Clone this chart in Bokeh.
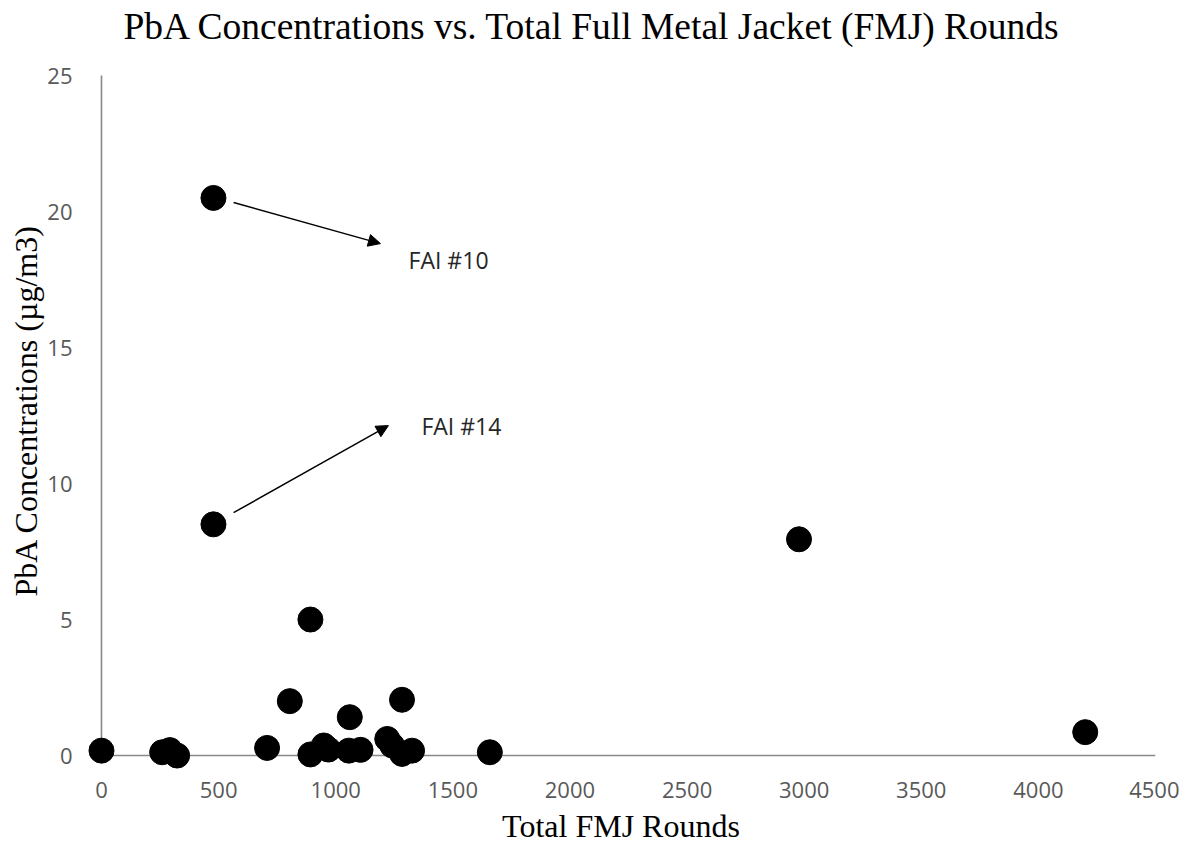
from bokeh.plotting import figure
from bokeh.models import Range1d, Label, Arrow, NormalHead, ColumnDataSource
from bokeh.embed import file_html
from bokeh.resources import INLINE

# ---- data ----
rounds = [0, 259, 292, 323, 478, 478, 707, 804, 892, 892, 949, 969,
          1056, 1060, 1106, 1220, 1241, 1283, 1283, 1326, 1658, 2978, 4200]
pba = [0.18, 0.12, 0.20, 0.00, 20.5, 8.5, 0.28, 2.0, 5.0, 0.04, 0.37, 0.22,
       0.18, 1.41, 0.21, 0.61, 0.37, 2.05, 0.06, 0.18, 0.12, 7.95, 0.86]
x_ticks = [0, 500, 1000, 1500, 2000, 2500, 3000, 3500, 4000, 4500]
y_ticks = [0, 5, 10, 15, 20, 25]

title_text = "PbA Concentrations vs. Total Full Metal Jacket (FMJ) Rounds"
x_label = "Total FMJ Rounds"
y_label = "PbA Concentrations (\u00b5g/m3)"

# annotation callouts
callout_labels = ["FAI #10", "FAI #14"]
callout_start_x = [564, 564]
callout_start_y = [20.33, 8.93]
callout_end_x = [1191, 1225]
callout_end_y = [18.82, 12.13]
callout_text_x = [1311, 1366]
callout_text_y = [18.2, 12.13]

p = figure(
    frame_width=1069, frame_height=720,
    x_range=Range1d(-64, 4500), y_range=Range1d(-0.55, 25.92),
    output_backend="svg", toolbar_location=None,
    min_border_left=86, min_border_right=24, min_border_top=50, min_border_bottom=72,
    title=title_text,
)
p.background_fill_color = "white"
p.border_fill_color = "white"
p.outline_line_color = None
p.grid.grid_line_color = None

p.title.text_font = "Liberation Serif"
p.title.text_font_size = "37.5px"
p.title.text_font_style = "normal"
p.title.text_color = "#000000"
p.title.align = "left"
p.title.offset = 37
p.title.vertical_align = "middle"
p.title.standoff = 6

for ax in (p.xaxis, p.yaxis):
    ax.axis_line_color = None
    ax.major_tick_line_color = None
    ax.minor_tick_line_color = None
    ax.major_tick_out = 0
    ax.major_tick_in = 0
    ax.major_label_text_font = "Open Sans"
    ax.major_label_text_font_size = "22px"
    ax.major_label_text_color = "#595959"
    ax.axis_label_text_font = "Liberation Serif"
    ax.axis_label_text_font_size = "32px"
    ax.axis_label_text_font_style = "normal"
    ax.axis_label_text_color = "#000000"

p.xaxis.ticker = x_ticks
p.yaxis.ticker = y_ticks
p.xaxis.axis_label = x_label
p.yaxis.axis_label = y_label
p.xaxis.major_label_standoff = 11
p.yaxis.major_label_standoff = 14
p.xaxis.axis_label_standoff = 7
p.yaxis.axis_label_standoff = 0

# visible axis lines at data zero
p.segment(x0=[x_ticks[0], x_ticks[0]], y0=[y_ticks[0], y_ticks[0]],
          x1=[x_ticks[-1], x_ticks[0]], y1=[y_ticks[0], y_ticks[-1]],
          line_color="#898989", line_width=1.6)

src = ColumnDataSource(dict(x=rounds, y=pba))
p.scatter("x", "y", source=src, size=25, marker="circle",
          fill_color="black", line_color="black")

for lab, sx, sy, ex, ey, tx, ty in zip(callout_labels, callout_start_x, callout_start_y,
                                       callout_end_x, callout_end_y, callout_text_x, callout_text_y):
    p.add_layout(Arrow(x_start=sx, y_start=sy, x_end=ex, y_end=ey,
                       line_color="black", line_width=1.5,
                       end=NormalHead(size=12, fill_color="black", line_color="black")))
    p.add_layout(Label(x=tx, y=ty, text=lab, text_font="Open Sans", text_font_size="23px",
                       text_color="#262626", text_baseline="middle", text_align="left"))

open("out.html", "w").write(file_html(p, INLINE))
